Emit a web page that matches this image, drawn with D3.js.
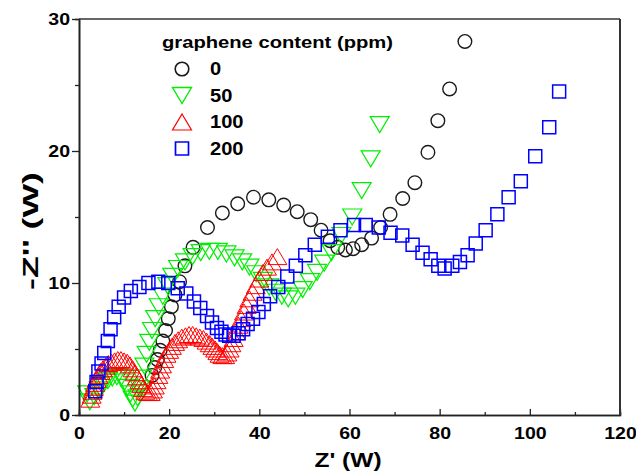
<!DOCTYPE html>
<html>
<head>
<meta charset="utf-8">
<script src="https://cdn.jsdelivr.net/npm/d3@7"></script>
<style>
  body { margin: 0; background: #fff; }
  text { font-family: "Liberation Sans", Arial, sans-serif; font-weight: bold; }
</style>
</head>
<body>
<svg id="chart" width="636" height="475"></svg>
<script>
// ---- data (Z', -Z'') ----
var series0 = [[16.2,3.0],[16.8,3.6],[17.4,4.2],[18.0,4.9],[18.6,5.6],[19.2,6.4],[19.8,7.3],[20.5,8.2],[21.3,9.1],[22.3,10.1],[23.5,11.3],[25.3,12.7],[28.5,14.2],[31.8,15.3],[35.2,16.0],[38.7,16.5],[42.1,16.3],[45.4,15.9],[48.4,15.4],[51.4,14.8],[53.7,14.0],[55.7,13.2],[57.4,12.7],[59.1,12.5],[60.8,12.6],[62.7,12.9],[64.9,13.4],[66.9,14.2],[69.0,15.2],[71.8,16.4],[74.5,17.6],[77.4,19.9],[79.6,22.3],[82.2,24.7],[85.6,28.3]];

var series50 = [[1.8,1.6],[2.4,1.0],[3.4,1.4],[4.4,1.9],[5.4,2.3],[6.4,2.6],[7.4,2.8],[8.4,2.9],[9.3,2.8],[10.1,2.5],[10.8,2.1],[11.4,1.6],[11.9,1.2],[12.4,0.9],[13.0,1.3],[13.5,2.0],[14.0,2.8],[14.5,3.7],[15.0,4.6],[15.6,5.5],[16.2,6.4],[16.9,7.3],[17.7,8.2],[18.6,9.0],[19.6,9.8],[20.7,10.5],[22.0,11.1],[23.5,11.6],[25.2,12.0],[27.0,12.3],[28.9,12.4],[30.8,12.4],[32.7,12.2],[34.5,11.9],[36.2,11.6],[37.8,11.2],[39.3,10.7],[40.8,10.2],[42.2,9.7],[43.6,9.3],[45.0,9.0],[46.4,8.8],[48.0,9.0],[49.6,9.5],[51.2,10.1],[52.8,10.8],[54.4,11.5],[56.0,12.3],[58.2,13.6],[60.6,15.0],[62.7,17.0],[64.7,19.4],[66.7,22.0]];

var series100 = [[2.5,1.2],[2.8,1.5],[3.0,1.8],[3.3,2.1],[3.6,2.4],[3.9,2.7],[4.3,3.0],[4.8,3.3],[5.3,3.5],[5.9,3.7],[6.5,3.9],[7.2,4.0],[7.9,4.1],[8.6,4.2],[9.3,4.2],[10.0,4.1],[10.7,4.0],[11.3,3.8],[11.9,3.5],[12.4,3.2],[12.9,2.9],[13.4,2.6],[13.8,2.3],[14.2,2.0],[14.7,1.8],[15.3,1.7],[15.9,1.7],[16.4,1.9],[16.8,2.2],[17.2,2.6],[17.6,3.0],[18.0,3.4],[18.4,3.8],[18.9,4.2],[19.4,4.6],[20.0,4.9],[20.6,5.2],[21.3,5.5],[22.0,5.7],[22.8,5.9],[23.6,6.0],[24.4,6.1],[25.2,6.1],[26.0,6.0],[26.8,5.9],[27.6,5.8],[28.3,5.6],[29.0,5.4],[29.6,5.2],[30.2,5.0],[30.7,4.8],[31.2,4.6],[31.8,4.5],[32.4,4.5],[32.9,4.7],[33.4,5.0],[33.8,5.4],[34.3,5.8],[34.8,6.3],[35.4,6.8],[36.0,7.3],[36.6,7.8],[37.2,8.3],[37.8,8.8],[38.5,9.3],[39.2,9.8],[40.0,10.3],[40.8,10.8],[41.7,11.2],[42.8,11.6],[44.0,12.0]];

var series200 = [[3.6,1.8],[3.9,2.5],[4.3,3.3],[5.0,3.9],[5.6,4.7],[6.4,5.6],[7.0,6.5],[7.8,7.4],[8.8,8.2],[10.0,8.9],[11.5,9.4],[13.4,9.7],[15.4,10.0],[17.6,10.1],[19.8,10.0],[21.9,9.6],[23.8,9.2],[25.5,8.6],[26.9,8.1],[28.4,7.5],[29.5,7.0],[30.6,6.6],[31.6,6.3],[32.5,6.1],[33.3,6.0],[34.3,6.0],[35.4,6.2],[36.4,6.5],[37.4,6.9],[38.6,7.3],[39.8,7.8],[41.0,8.4],[42.4,9.0],[44.2,9.7],[46.2,10.5],[48.1,11.3],[50.2,12.1],[52.3,12.9],[55.2,13.5],[58.0,14.0],[61.0,14.4],[63.6,14.4],[66.5,14.2],[69.1,13.8],[71.7,13.6],[74.0,12.9],[76.2,12.3],[78.0,11.8],[79.7,11.3],[81.1,11.1],[82.8,11.3],[84.5,11.6],[86.2,12.1],[88.0,13.0],[90.2,14.0],[92.8,15.2],[95.3,16.5],[98.0,17.7],[101.2,19.6],[104.3,21.8],[106.5,24.5]];

var legendTitle = "graphene content (ppm)";
var legendLabels = ["0", "50", "100", "200"];
var xTicks = [0, 20, 40, 60, 80, 100, 120];
var xMinor = [10, 30, 50, 70, 90, 110];
var yTicks = [0, 10, 20, 30];
var yMinor = [5, 15, 25];

var svg = d3.select("#chart");
var stretch = 1.15;   // the source text is a bit wider than Arial

var x = d3.scaleLinear().domain([0, 120]).range([79, 620]);
var y = d3.scaleLinear().domain([0, 30]).range([415, 19]);

// marker shapes
function markerPath(kind) {
  if (kind == "circle") return d3.symbol().type(d3.symbolCircle).size(Math.PI * 6.8 * 6.8)();
  if (kind == "square") return "M-6.5,-6.5H6.5V6.5H-6.5Z";
  if (kind == "up") return "M0,-8L9.5,8H-9.5Z";
  return "M0,8L9.5,-8H-9.5Z";   // down
}

var groups = [
  {data: series0,   kind: "circle", color: "#1a1a1a", sw: 1.4},
  {data: series50,  kind: "down",   color: "#00ee00", sw: 1.2},
  {data: series100, kind: "up",     color: "#ff0000", sw: 1.0},
  {data: series200, kind: "square", color: "#0000ff", sw: 1.5}
];

var plot = svg.append("g").attr("class", "plot");

groups.forEach(function(g) {
  plot.append("g").selectAll("path")
      .data(g.data)
      .enter().append("path")
      .attr("d", markerPath(g.kind))
      .attr("transform", function(d) { return "translate(" + x(d[0]) + "," + y(d[1]) + ")"; })
      .attr("fill", "none")
      .attr("stroke", g.color)
      .attr("stroke-width", g.sw);
});

//================= axes
var xAxis = svg.append("g")
   .attr("transform", "translate(0,415)")
   .call(d3.axisBottom(x).tickValues(xTicks).tickSizeInner(-6).tickSizeOuter(0).tickPadding(12));

svg.append("g")
   .attr("transform", "translate(0,415)")
   .call(d3.axisBottom(x).tickValues(xMinor).tickSize(-3).tickFormat(""));

var yAxis = svg.append("g")
   .attr("transform", "translate(79,0)")
   .call(d3.axisLeft(y).tickValues(yTicks).tickSizeInner(7).tickSizeOuter(0).tickPadding(2));

svg.append("g")
   .attr("transform", "translate(79,0)")
   .call(d3.axisLeft(y).tickValues(yMinor).tickSize(4).tickFormat(""));

svg.selectAll(".domain").attr("stroke", "#222").attr("stroke-width", 1.6);
svg.selectAll(".tick line").attr("stroke", "#222").attr("stroke-width", 1.3);
svg.selectAll(".tick text").attr("fill", "#000").style("font-size", "17px")
   .style("font-family", "'Liberation Sans', Arial, sans-serif").style("font-weight", "bold")
   .attr("transform", "scale(" + stretch + ",1)");
yAxis.selectAll(".tick text").attr("x", -9 / stretch);

// frame top and right
svg.append("line").attr("x1", 79).attr("x2", 620).attr("y1", 19).attr("y2", 19)
   .attr("stroke", "#333").attr("stroke-width", 1.4);
svg.append("line").attr("x1", 620).attr("x2", 620).attr("y1", 19).attr("y2", 415)
   .attr("stroke", "#333").attr("stroke-width", 2);

// axis labels
svg.append("text")
   .attr("transform", "translate(348,467) scale(1.17,1)")
   .attr("text-anchor", "middle")
   .style("font-size", "21px")
   .text("Z' (W)");

svg.append("text")
   .attr("transform", "translate(38,290) rotate(-90)")
   .attr("textLength", 118)
   .attr("lengthAdjust", "spacingAndGlyphs")
   .style("font-size", "22px")
   .text("-Z'' (W)");

//================= legend
var legend = svg.append("g");
legend.append("text").attr("x", 162).attr("y", 48)
   .attr("textLength", 231).attr("lengthAdjust", "spacingAndGlyphs")
   .style("font-size", "17px").text(legendTitle);

groups.forEach(function(g, i) {
  var cy = 69 + i * 26.5;
  legend.append("path")
     .attr("d", markerPath(g.kind))
     .attr("transform", "translate(182," + cy + ")")
     .attr("fill", "none")
     .attr("stroke", g.color)
     .attr("stroke-width", g.sw + 0.2);
  legend.append("text")
     .attr("transform", "translate(210," + (cy + 6) + ") scale(" + stretch + ",1)")
     .style("font-size", "17.5px")
     .text(legendLabels[i]);
});
</script>
</body>
</html>
